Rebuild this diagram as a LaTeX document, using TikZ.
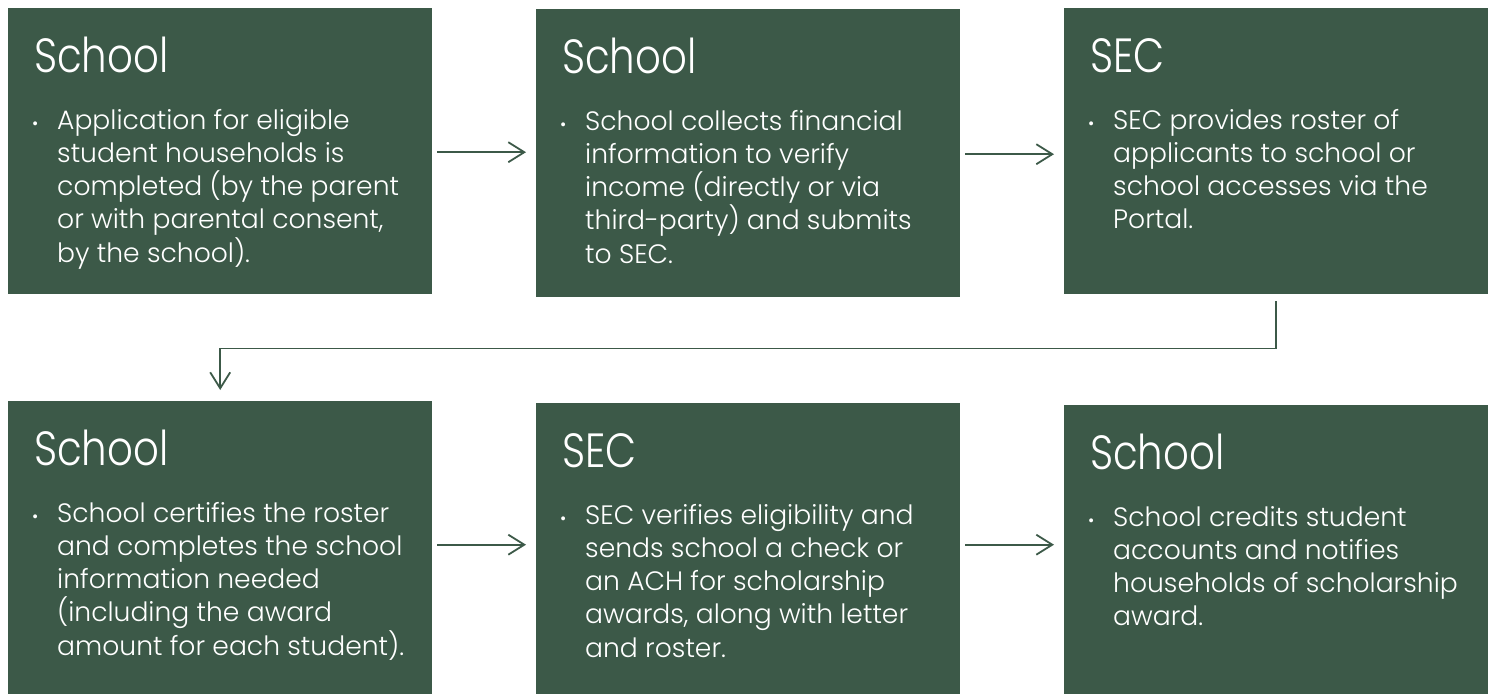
\documentclass[tikz,border=0pt]{standalone}
\usepackage{fontspec}
\IfFontExistsTF{Poppins Light}{%
  \setmainfont{Poppins Light}%
  \newfontfamily\titlefont{Poppins Light}[FakeStretch=0.84]%
}{%
  \setmainfont{Poppins}%
  \newfontfamily\titlefont{Poppins}[FakeStretch=0.84]%
}
\usetikzlibrary{arrows.meta,calc}
\definecolor{boxgreen}{RGB}{60,89,72}
\begin{document}
\begin{tikzpicture}[x=1pt,y=-1pt,
  stepbox/.style={draw=none,fill=boxgreen,inner sep=0pt,anchor=north west,minimum width=424pt},
  boxtitle/.style={anchor=base west,inner sep=0pt,text=white,font=\titlefont\fontsize{48}{50}\selectfont},
  boxbody/.style={anchor=base west,inner sep=0pt,text=white,font=\fontsize{26.6}{33.3}\selectfont},
  bulletmark/.style={anchor=base west,inner sep=0pt,text=white,font=\fontsize{17}{20}\selectfont},
  arr/.style={draw=boxgreen,line width=1.8pt,-{Straight Barb[length=16pt,width=20pt,line width=1.8pt]}}
]
\useasboundingbox (0,0) rectangle (1497,694);
% boxes
\node[stepbox,minimum height=286pt] (b1) at (8,8) {};
\node[stepbox,minimum height=288pt] (b2) at (536,9) {};
\node[stepbox,minimum height=286pt] (b3) at (1064,8) {};
\node[stepbox,minimum height=293pt] (b4) at (8,401) {};
\node[stepbox,minimum height=291pt] (b5) at (536,403) {};
\node[stepbox,minimum height=289pt] (b6) at (1064,405) {};
% titles and bodies
\foreach \b/\t/\body in {
  b1/School/{Application for eligible\\student households is\\completed (by the parent\\or with parental consent,\\by the school).},
  b2/School/{School collects financial\\information to verify\\income (directly or via\\third-party) and submits\\to SEC.},
  b3/SEC/{SEC provides roster of\\applicants to school or\\school accesses via the\\Portal.},
  b4/School/{School certifies the roster\\and completes the school\\information needed\\(including the award\\amount for each student).},
  b5/SEC/{SEC verifies eligibility and\\sends school a check or\\an ACH for scholarship\\awards, along with letter\\and roster.},
  b6/School/{School credits student\\accounts and notifies\\households of scholarship\\award.}}{
  \node[boxtitle] (\b t) at ($(\b.north west)+(26,64)$) {\t};
  \node[bulletmark] (\b d) at ($(\b.north west)+(24,121)$) {•};
  \node[boxbody] (\b x) at ($(\b.north west)+(49,121)$) {\parbox[t]{375pt}{\raggedright\fontsize{26.6}{33.3}\selectfont\body}};
}
% connectors
\draw[arr,shorten <=5pt,shorten >=10pt] ([yshift=-1pt]b1.east) -- ([yshift=-1pt]b1.east -| b2.west);
\draw[arr,shorten <=5pt,shorten >=10pt] ([yshift=-1pt]b2.east -| b2.east) -- ([yshift=-1pt]b2.east -| b3.west);
\coordinate (bend) at ($(b3.south)+(0,54)$);
\draw[arr,shorten <=7pt,shorten >=11pt] (b3.south) -- (bend) -| (b4.north);
\draw[arr,shorten <=5pt,shorten >=10pt] ([yshift=3pt]b4.east) -- ([yshift=3pt]b4.east -| b5.west);
\draw[arr,shorten <=5pt,shorten >=10pt] ([yshift=3pt]b4.east -| b5.east) -- ([yshift=3pt]b4.east -| b6.west);
\end{tikzpicture}
\end{document}
